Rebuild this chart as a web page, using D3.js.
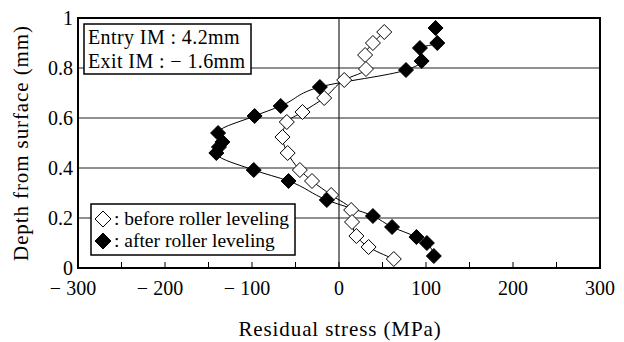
<!DOCTYPE html>
<html>
<head>
<meta charset="utf-8">
<script src="https://cdn.jsdelivr.net/npm/d3@7"></script>
<style>
  body { margin: 0; background: #fff; }
</style>
</head>
<body>
<div id="chart"></div>
<script>
// residual stress (MPa) vs depth (mm)
const beforeStress = [52, 39, 30, 31, 6, -17, -42, -60, -65, -59, -45, -31, -9, 14, 15, 20, 34, 63];
const beforeDepth = [0.944, 0.9, 0.852, 0.796, 0.752, 0.68, 0.624, 0.584, 0.524, 0.46, 0.392, 0.348, 0.292, 0.232, 0.184, 0.128, 0.084, 0.036];
const afterStress = [111, 113, 93, 95, 77, -22, -67, -97, -139, -134, -138, -141, -98, -58, -14, 39, 61, 89, 101, 109];
const afterDepth = [0.96, 0.9, 0.88, 0.828, 0.792, 0.724, 0.648, 0.608, 0.54, 0.504, 0.484, 0.46, 0.392, 0.348, 0.272, 0.208, 0.164, 0.124, 0.1, 0.048];
const xTicks = [-300, -200, -100, 0, 100, 200, 300];
const yTicks = [0, 0.2, 0.4, 0.6, 0.8, 1];

const W = 624, H = 342;
const M = { left: 78, right: 24, top: 18, bottom: 74 };
const FONT = "Liberation Serif";

const svg = d3.select("#chart").append("svg")
  .attr("width", W).attr("height", H)
  .style("display", "block");

const x = d3.scaleLinear().domain([-300, 300]).range([M.left, W - M.right]);
const y = d3.scaleLinear().domain([0, 1]).range([H - M.bottom, M.top]);

function label(parent, txt, px, py, size = 19, anchor = "start") {
  return parent.append("text")
    .attr("x", px).attr("y", py)
    .attr("font-family", FONT)
    .attr("font-size", size)
    .attr("text-anchor", anchor)
    .text(txt);
}

// ── grid ──
svg.append("g")
  .selectAll("line")
  .data([0.2, 0.4, 0.6, 0.8])
  .join("line")
  .attr("x1", x(-300)).attr("x2", x(300))
  .attr("y1", (d) => y(d)).attr("y2", (d) => y(d))
  .attr("stroke", "#222").attr("stroke-width", 1);
svg.append("line")
  .attr("x1", x(0)).attr("x2", x(0))
  .attr("y1", y(0)).attr("y2", y(1))
  .attr("stroke", "#222").attr("stroke-width", 1.2);

// ── x minor ticks (inward) ──
svg.append("g")
  .selectAll("line")
  .data(d3.range(-250, 300, 50))
  .join("line")
  .attr("x1", (d) => x(d)).attr("x2", (d) => x(d))
  .attr("y1", y(0)).attr("y2", y(0) - 6)
  .attr("stroke", "#000").attr("stroke-width", 1);

// ── frame ──
svg.append("rect")
  .attr("x", x(-300)).attr("y", y(1))
  .attr("width", x(300) - x(-300)).attr("height", y(0) - y(1))
  .attr("fill", "none").attr("stroke", "#000").attr("stroke-width", 2);

// ── tick labels ──
const fmtX = (d) => (d < 0 ? "\u2212 " + Math.abs(d) : String(d));
const gx = svg.append("g");
xTicks.forEach((d) => label(gx, fmtX(d), x(d) + (d < 0 ? -5 : 0), y(0) + 27, 20, "middle"));
const gy = svg.append("g");
yTicks.forEach((d) => label(gy, d3.format("~g")(d), M.left - 5, y(d) + 7, 20, "end"));

label(svg, "Residual stress (MPa)", x(0) + 1, 336, 21, "middle")
  .attr("letter-spacing", 0.9);
label(svg, "Depth from surface (mm)", 0, 0, 21, "middle")
  .attr("letter-spacing", 0.9)
  .attr("transform", `translate(28,${y(0.5)}) rotate(-90)`);

// ── curves + markers ──
const line = d3.line().curve(d3.curveMonotoneY);
const series = [
  { stress: beforeStress, depth: beforeDepth, fill: "#fff" },
  { stress: afterStress, depth: afterDepth, fill: "#000" },
];
const diamond = (s) => `M0,${-s}L${s},0L0,${s}L${-s},0Z`;

series.forEach((s) => {
  const pts = s.stress.map((v, i) => [x(v), y(s.depth[i])]);
  svg.append("path")
    .attr("d", line(pts.slice().sort((a, b) => a[1] - b[1])))
    .attr("fill", "none").attr("stroke", "#000").attr("stroke-width", 1);
});
series.forEach((s) => {
  svg.append("g")
    .selectAll("path")
    .data(s.stress.map((v, i) => [v, s.depth[i]]))
    .join("path")
    .attr("transform", (d) => `translate(${x(d[0])},${y(d[1])})`)
    .attr("d", diamond(7.5))
    .attr("fill", s.fill).attr("stroke", "#000").attr("stroke-width", 1);
});

// ── info box ──
const info = svg.append("g");
info.append("rect")
  .attr("x", 84).attr("y", 24).attr("width", 167).attr("height", 50)
  .attr("fill", "#fff").attr("stroke", "#000").attr("stroke-width", 1.5);
label(info, "Entry IM : 4.2mm", 88, 44, 20).attr("letter-spacing", 0.4);
label(info, "Exit IM :  \u2212 1.6mm", 88, 68, 20).attr("letter-spacing", 0.4);

// ── legend ──
const leg = svg.append("g");
leg.append("rect")
  .attr("x", 91).attr("y", 204).attr("width", 204).attr("height", 51)
  .attr("fill", "#fff").attr("stroke", "#000").attr("stroke-width", 1.5);
[["before roller leveling", "#fff", 225], ["after roller leveling", "#000", 247]].forEach(([txt, fill, by]) => {
  leg.append("path")
    .attr("transform", `translate(103,${by - 6})`)
    .attr("d", diamond(8))
    .attr("fill", fill).attr("stroke", "#000").attr("stroke-width", 1);
  label(leg, ": " + txt, 114, by, 19.5);
});
</script>
</body>
</html>
